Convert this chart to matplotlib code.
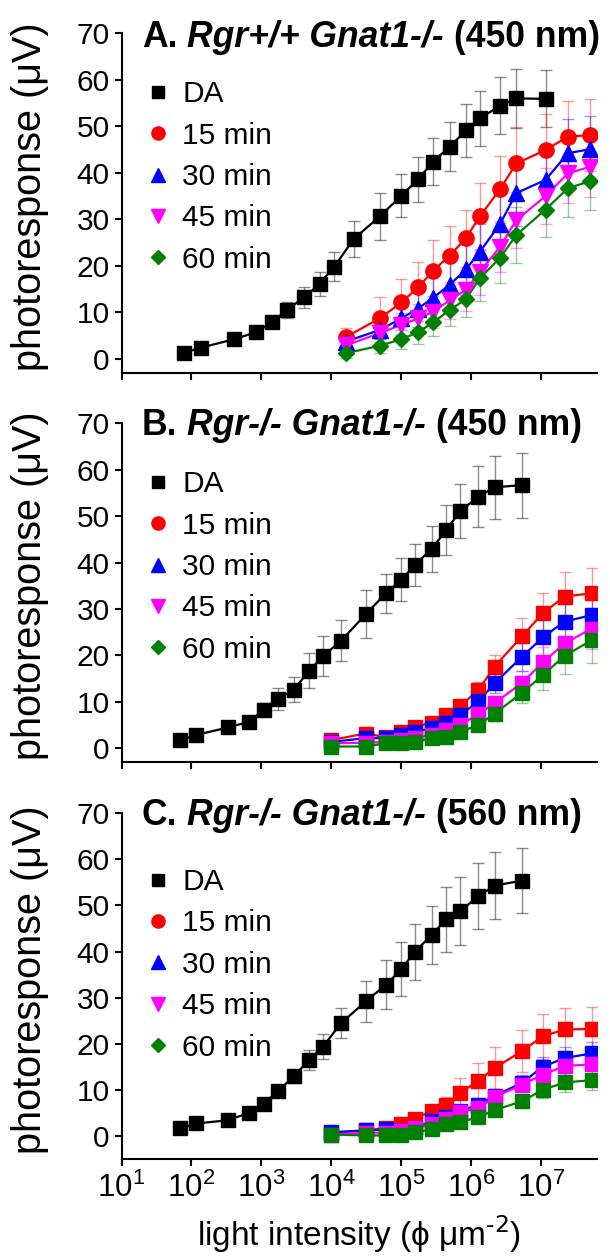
import numpy as np
import matplotlib
matplotlib.use("Agg")
import matplotlib.pyplot as plt
from matplotlib.lines import Line2D

plt.rcParams['font.family'] = ['Liberation Sans', 'DejaVu Sans']
plt.rcParams['mathtext.default'] = 'regular'

# ---------------- data (x given as log10 of light intensity) ----------------
series_labels = ['DA', '15 min', '30 min', '45 min', '60 min']
series_colors = ['#000000', '#ff0000', '#0000ff', '#ff00ff', '#008000']
series_markers_A = ['s', 'o', '^', 'v', 'D']
tick_exponents = [1, 2, 3, 4, 5, 6, 7]
ytick_values = [0, 10, 20, 30, 40, 50, 60, 70]
panel_letters = ['A.', 'B.', 'C.']
panel_genotypes = ['Rgr+/+ Gnat1-/-', 'Rgr-/- Gnat1-/-', 'Rgr-/- Gnat1-/-']
panel_wavelengths = ['(450 nm)', '(450 nm)', '(560 nm)']

# Panel A
A_da_logx = [1.89, 2.14, 2.61, 2.92, 3.15, 3.36, 3.61, 3.83, 4.04, 4.32, 4.69, 5.00, 5.24, 5.45, 5.69, 5.92, 6.12, 6.41, 6.64, 7.06]
A_da = [1.3, 2.4, 4.2, 5.7, 7.8, 10.5, 13.2, 16.1, 19.8, 25.8, 30.6, 35.1, 38.6, 42.4, 45.6, 49.1, 51.7, 54.4, 56.0, 55.9]
A_da_err = [0.4, 0.5, 0.6, 0.7, 0.9, 1.8, 2.2, 2.5, 3.1, 3.9, 5.1, 4.7, 4.9, 5.0, 5.3, 5.6, 5.9, 6.1, 6.3, 6.1]
A_t_logx = [4.21, 4.69, 5.00, 5.24, 5.45, 5.69, 5.92, 6.12, 6.41, 6.64, 7.06, 7.38, 7.70]
A_15 = [4.7, 8.7, 12.1, 15.4, 18.9, 22.2, 25.9, 30.6, 36.5, 42.0, 44.9, 47.8, 48.1]
A_15_err = [2.0, 4.5, 5.0, 5.5, 6.6, 6.4, 6.2, 7.2, 7.2, 7.8, 7.7, 7.7, 7.7]
A_30 = [3.7, 6.2, 8.7, 10.8, 13.1, 15.9, 19.2, 23.0, 29.0, 35.6, 38.5, 44.2, 45.1]
A_30_err = [1.5, 3.0, 3.5, 4.0, 5.0, 5.5, 5.5, 6.0, 6.5, 7.0, 7.0, 7.4, 7.2]
A_45 = [2.9, 5.5, 7.3, 8.7, 10.1, 12.6, 14.8, 18.7, 24.1, 29.8, 35.0, 39.9, 41.3]
A_45_err = [1.0, 2.0, 2.5, 3.0, 3.5, 4.0, 4.5, 5.0, 5.5, 6.0, 6.0, 6.5, 6.5]
A_60 = [1.2, 2.8, 4.2, 5.7, 7.8, 10.5, 12.8, 17.3, 21.7, 26.6, 32.1, 36.7, 38.2]
A_60_err = [1.0, 1.5, 2.0, 2.5, 3.0, 3.5, 3.8, 4.8, 5.5, 6.0, 6.0, 6.3, 6.3]

# Panel B
B_da_logx = [1.84, 2.07, 2.52, 2.82, 3.03, 3.23, 3.46, 3.68, 3.88, 4.14, 4.49, 4.78, 5.00, 5.19, 5.43, 5.64, 5.84, 6.10, 6.33, 6.72]
B_da = [1.8, 2.9, 4.5, 5.7, 8.3, 10.6, 12.6, 16.7, 19.9, 23.2, 28.9, 33.4, 36.3, 39.5, 42.9, 47.0, 51.1, 54.2, 56.2, 56.7]
B_da_err = [0.3, 0.4, 0.5, 0.8, 1.4, 2.4, 2.7, 3.8, 4.4, 4.4, 5.1, 4.2, 4.6, 4.5, 5.0, 5.4, 5.8, 6.5, 6.8, 7.0]
B_t_logx = [4.00, 4.49, 4.78, 5.00, 5.19, 5.43, 5.64, 5.84, 6.10, 6.33, 6.72, 7.02, 7.33, 7.72]
B_15 = [1.8, 3.2, 2.4, 3.6, 4.7, 5.5, 7.2, 9.1, 12.6, 17.6, 24.1, 29.1, 32.7, 33.4]
B_15_err = [0.5, 0.6, 0.6, 0.7, 0.8, 0.9, 1.0, 1.2, 1.6, 2.5, 4.0, 4.4, 5.3, 5.4]
B_30 = [1.4, 2.2, 2.2, 2.9, 3.6, 4.3, 5.4, 7.2, 10.1, 14.0, 19.7, 23.9, 27.3, 28.7]
B_30_err = [0.4, 0.5, 0.5, 0.6, 0.7, 0.8, 0.9, 1.1, 1.5, 2.0, 3.0, 4.0, 4.5, 5.0]
B_45 = [1.1, 1.2, 1.4, 1.8, 2.2, 2.9, 4.0, 5.0, 7.4, 9.7, 14.1, 18.5, 22.6, 25.8]
B_45_err = [0.3, 0.4, 0.4, 0.5, 0.6, 0.7, 0.8, 1.0, 1.3, 1.6, 2.5, 3.3, 3.8, 4.5]
B_60 = [0.4, 0.4, 1.1, 1.1, 1.4, 2.2, 2.4, 3.6, 5.0, 7.5, 11.9, 15.8, 19.9, 23.3]
B_60_err = [0.3, 0.3, 0.4, 0.4, 0.5, 0.6, 0.7, 0.9, 1.2, 1.5, 2.2, 3.2, 3.9, 5.0]

# Panel C
C_da_logx = [1.84, 2.07, 2.52, 2.82, 3.03, 3.23, 3.46, 3.68, 3.88, 4.14, 4.49, 4.78, 5.00, 5.19, 5.43, 5.64, 5.84, 6.10, 6.33, 6.72]
C_da = [1.7, 2.7, 3.4, 5.0, 7.0, 9.7, 12.9, 16.5, 19.4, 24.5, 29.2, 32.8, 36.2, 39.9, 43.6, 47.0, 48.8, 52.0, 54.3, 55.4]
C_da_err = [0.3, 0.4, 0.5, 0.6, 0.8, 1.0, 1.5, 2.2, 2.7, 3.2, 4.5, 5.3, 5.9, 6.1, 6.2, 7.0, 7.3, 7.2, 7.3, 7.0]
C_t_logx = [4.00, 4.49, 4.78, 5.00, 5.19, 5.43, 5.64, 5.84, 6.10, 6.33, 6.72, 7.02, 7.33, 7.72]
C_15 = [0.7, 1.2, 1.7, 2.5, 3.7, 5.4, 6.8, 9.3, 12.0, 14.7, 18.4, 21.6, 23.1, 23.2]
C_15_err = [0.4, 0.5, 0.6, 0.7, 0.9, 1.2, 1.6, 3.3, 3.8, 4.6, 4.6, 4.8, 4.7, 4.8]
C_30 = [0.8, 1.2, 1.4, 1.0, 1.7, 3.2, 4.1, 5.4, 6.8, 8.7, 11.5, 15.0, 16.9, 17.9]
C_30_err = [0.3, 0.4, 0.4, 0.4, 0.5, 0.7, 0.8, 1.0, 1.2, 1.5, 1.8, 2.2, 2.4, 2.5]
C_45 = [0.3, 0.7, 0.7, 1.0, 1.7, 2.5, 3.7, 5.1, 6.1, 8.4, 11.1, 13.3, 15.2, 15.5]
C_45_err = [0.2, 0.3, 0.3, 0.4, 0.5, 0.6, 0.7, 0.9, 1.0, 1.3, 1.6, 1.9, 2.1, 2.2]
C_60 = [0.3, 0.1, 0.1, 0.1, 0.8, 1.4, 2.5, 3.0, 4.1, 5.6, 7.5, 10.0, 11.6, 12.1]
C_60_err = [0.2, 0.2, 0.2, 0.3, 0.4, 0.5, 0.6, 0.7, 0.9, 1.1, 1.4, 1.8, 2.1, 2.1]

panels = [
    dict(da_x=A_da_logx, da=A_da, da_err=A_da_err, t_x=A_t_logx,
         ts=[A_15, A_30, A_45, A_60], ts_err=[A_15_err, A_30_err, A_45_err, A_60_err]),
    dict(da_x=B_da_logx, da=B_da, da_err=B_da_err, t_x=B_t_logx,
         ts=[B_15, B_30, B_45, B_60], ts_err=[B_15_err, B_30_err, B_45_err, B_60_err]),
    dict(da_x=C_da_logx, da=C_da, da_err=C_da_err, t_x=C_t_logx,
         ts=[C_15, C_30, C_45, C_60], ts_err=[C_15_err, C_30_err, C_45_err, C_60_err]),
]

# ---------------- layout ----------------
W, H = 610, 1260
fig = plt.figure(figsize=(W / 100, H / 100), dpi=100)
left, right = 121.5, 596.7
axes_px = [(33.3, 372.7, -3.0), (423.3, 762.3, -3.0), (813.3, 1159.3, -5.07)]
legend_anchor_y = [0.862, 0.862, 0.842]
title_baseline_px = [47, 435, 825]

TICK_FS = 21.5
TITLE_FS = 25.6
LABEL_FS = 28.5

for i, (pan, (top, bot, ymin)) in enumerate(zip(panels, axes_px)):
    ax = fig.add_axes([left / W, 1 - bot / H, (right - left) / W, (bot - top) / H])
    ax.set_xscale('log')
    ax.set_xlim(10 ** 1, 10 ** 7.79)
    ax.set_ylim(ymin, 70)
    for s in ['top', 'right']:
        ax.spines[s].set_visible(False)
    for s in ['left', 'bottom']:
        ax.spines[s].set_linewidth(1.5)

    ax.set_xticks([10.0 ** e for e in tick_exponents])
    ax.xaxis.set_minor_locator(matplotlib.ticker.NullLocator())
    if i == 2:
        ax.set_xticklabels([r'$10^{%d}$' % e for e in tick_exponents])
    else:
        ax.set_xticklabels([])
    ax.set_yticks(ytick_values)
    ax.set_yticklabels([str(v) for v in ytick_values])
    ax.tick_params(axis='both', direction='out', length=5, width=1.5, labelsize=TICK_FS, pad=3.5)
    ax.tick_params(axis='x', labelsize=22.5, pad=5)

    ax.set_ylabel('photoresponse (μV)', fontsize=LABEL_FS)
    ax.yaxis.set_label_coords(-0.152, 0.52)

    # DA series
    dx = 10 ** np.array(pan['da_x'])
    ax.errorbar(dx, pan['da'], yerr=pan['da_err'], fmt='none', ecolor=series_colors[0],
                alpha=0.45, elinewidth=1.0, capsize=4, capthick=1.0, zorder=1)
    # time series
    tx = 10 ** np.array(pan['t_x'])
    for k in range(4):
        ax.errorbar(tx, pan['ts'][k], yerr=pan['ts_err'][k], fmt='none', ecolor=series_colors[k + 1],
                    alpha=0.4, elinewidth=1.0, capsize=4, capthick=1.0, zorder=1)
    ax.plot(dx, pan['da'], '-', color=series_colors[0], lw=1.6, zorder=2)
    ax.plot(dx, pan['da'], linestyle='none', marker='s', ms=9.5, color=series_colors[0], zorder=3)
    for k in range(4):
        mk = series_markers_A[k + 1] if i == 0 else 's'
        ms = {'o': 11, '^': 11, 'v': 11, 'D': 8.5, 's': 10}[mk]
        ax.plot(tx, pan['ts'][k], '-', color=series_colors[k + 1], lw=1.6, zorder=2 + k * 0.01)
        ax.plot(tx, pan['ts'][k], linestyle='none', marker=mk, ms=ms,
                color=series_colors[k + 1], zorder=3 + k * 0.01)

    # legend
    handles = [Line2D([], [], linestyle='none', marker=m, color=c,
                      ms={'s': 8, 'o': 9.5, '^': 9.5, 'v': 9.5, 'D': 7.5}[m])
               for m, c in zip(series_markers_A, series_colors)]
    ax.legend(handles, series_labels, loc='upper left', bbox_to_anchor=(0.052, legend_anchor_y[i]),
              frameon=False, borderpad=0, borderaxespad=0, handlelength=0.8,
              handletextpad=0.4, labelspacing=0.45, fontsize=TICK_FS)

    # title with mixed bold / bold-italic
    ybase = (bot - title_baseline_px[i]) / (bot - top)
    t1 = ax.text(0.043, ybase, panel_letters[i], transform=ax.transAxes,
                 fontsize=TITLE_FS, fontweight='bold', va='baseline', ha='left')
    t2 = ax.annotate(panel_genotypes[i], xy=(1, 0), xycoords=t1, xytext=(7, 0),
                     textcoords='offset points', fontsize=TITLE_FS, fontweight='bold',
                     fontstyle='italic', va='bottom', ha='left')
    ax.annotate(panel_wavelengths[i], xy=(1, 0), xycoords=t2, xytext=(7, 0),
                textcoords='offset points', fontsize=TITLE_FS, fontweight='bold',
                va='bottom', ha='left')

    if i == 2:
        ax.set_xlabel(r'light intensity (ϕ μm$^{\text{-2}}$)', fontsize=24, labelpad=7)

fig.savefig('out.png', dpi=100)
